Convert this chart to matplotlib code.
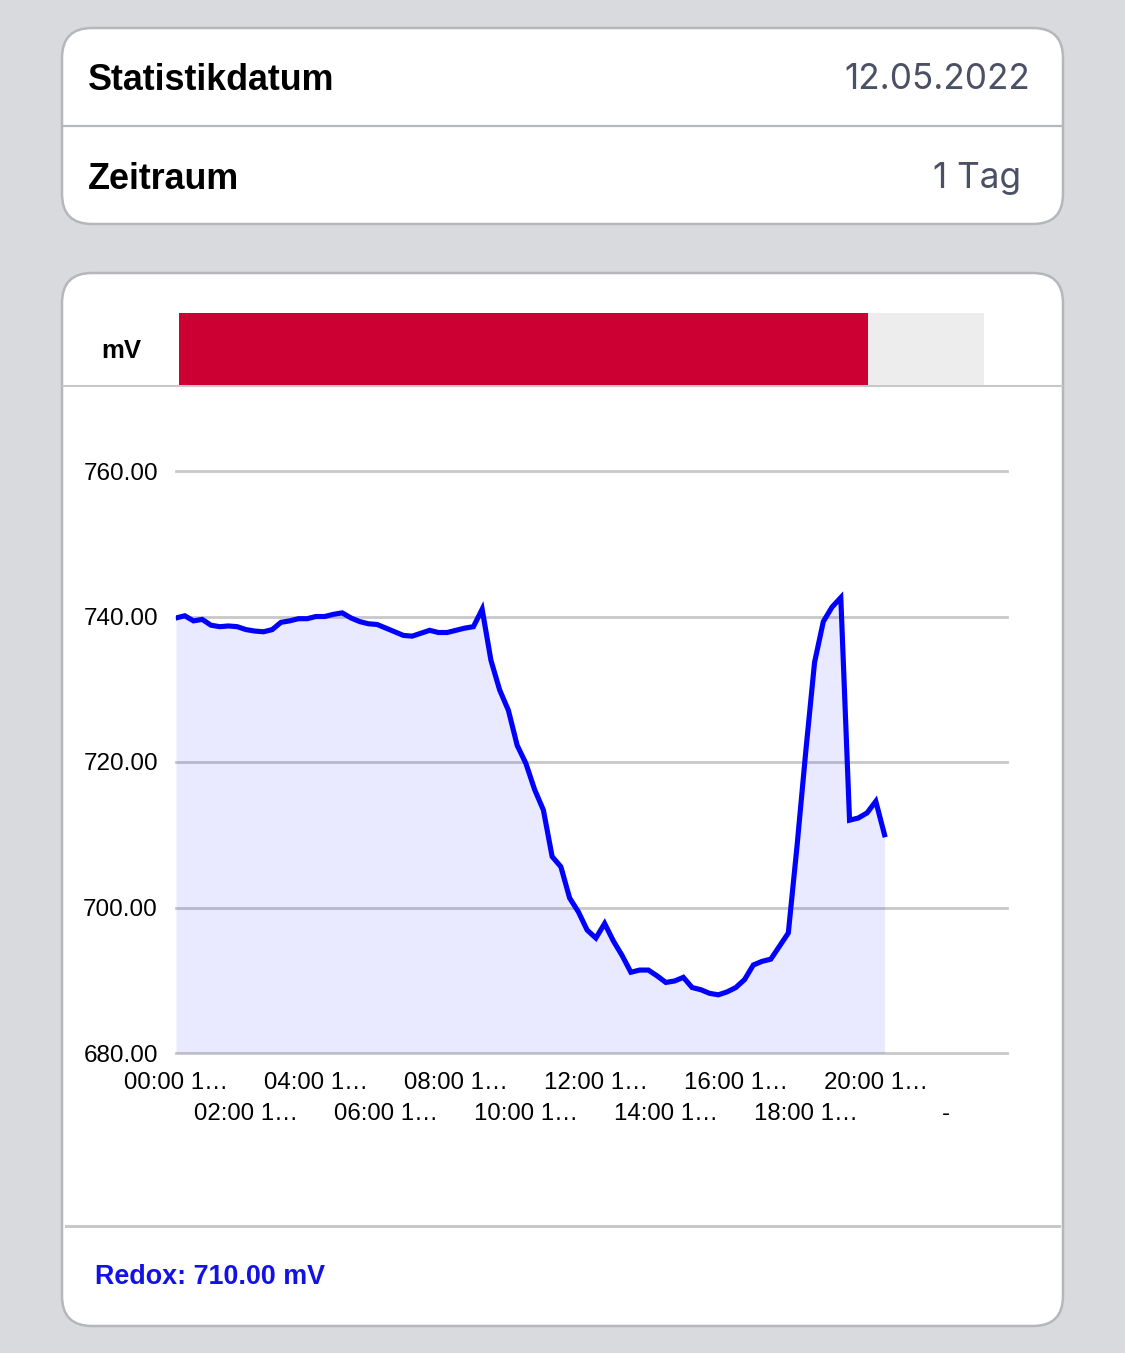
import matplotlib
matplotlib.use("Agg")
import matplotlib.pyplot as plt
from matplotlib.patches import FancyBboxPatch

# ---------------- data ----------------
stat_label = "Statistikdatum"
stat_value = "12.05.2022"
period_label = "Zeitraum"
period_value = "1 Tag"
unit_label = "mV"
series_name = "Redox"
gauge_value = 710.0
gauge_max = 830.0

slot_count = 96  # 15-minute slots over one day
tick_slots = list(range(0, 96, 8))
tick_labels = ["00:00 1…", "02:00 1…", "04:00 1…", "06:00 1…", "08:00 1…",
               "10:00 1…", "12:00 1…", "14:00 1…", "16:00 1…", "18:00 1…",
               "20:00 1…", "-"]
y_ticks = [680, 700, 720, 740, 760]
y_tick_labels = ["680.00", "700.00", "720.00", "740.00", "760.00"]

redox = [739.8, 740.1, 739.4, 739.6, 738.8, 738.6, 738.7, 738.6, 738.2, 738.0,
         737.9, 738.2, 739.2, 739.4, 739.7, 739.7, 740.0, 740.0, 740.3, 740.5,
         739.8, 739.3, 739.0, 738.9, 738.4, 737.9, 737.4, 737.3, 737.7, 738.1,
         737.8, 737.8, 738.1, 738.4, 738.6, 741.0, 734.0, 729.9, 727.1, 722.3,
         719.8, 716.2, 713.4, 707.0, 705.6, 701.3, 699.4, 696.9, 695.8, 697.8,
         695.4, 693.4, 691.1, 691.4, 691.4, 690.6, 689.7, 689.9, 690.4, 689.0,
         688.7, 688.2, 688.0, 688.4, 689.0, 690.1, 692.1, 692.6, 692.9, 694.7,
         696.5, 708.5, 721.5, 733.7, 739.3, 741.3, 742.6, 712.0, 712.3, 713.0,
         714.6, 710.0]

# ---------------- layout ----------------
W, H, DPI = 1125, 1353, 100
BG = "#d9dade"
BORDER = "#b6b7bb"
SANS = ["Liberation Sans", "DejaVu Sans"]
UI = ["Inter", "DejaVu Sans"]

fig = plt.figure(figsize=(W / DPI, H / DPI), dpi=DPI, facecolor=BG)

def fx(px):
    return px / W

def fy(py):
    return 1 - py / H

bg = fig.add_axes([0, 0, 1, 1])
bg.set_xlim(0, W)
bg.set_ylim(H, 0)
bg.axis("off")
bg.set_facecolor(BG)

def card(x0, y0, x1, y1):
    p = FancyBboxPatch((x0, y0), x1 - x0, y1 - y0,
                       boxstyle="round,pad=0,rounding_size=30",
                       facecolor="white", edgecolor=BORDER, linewidth=1.8)
    bg.add_patch(p)

# top card
card(62, 28, 1063, 224)
bg.plot([63, 1062], [126, 126], color=BORDER, lw=1.6)
bg.text(88, 90, stat_label, fontsize=25.8, fontweight="bold", family=SANS,
        ha="left", va="baseline", color="black")
bg.text(88, 189, period_label, fontsize=25.8, fontweight="bold", family=SANS,
        ha="left", va="baseline", color="black")
bg.text(1030, 89, stat_value, fontsize=25.3, family=UI,
        ha="right", va="baseline", color="#4b5064")
bg.text(1021, 188, period_value, fontsize=25.3, family=UI,
        ha="right", va="baseline", color="#4b5064")

# chart card
card(62, 273, 1063, 1326)
bg.plot([63, 1062], [385.5, 385.5], color="#c8c8c8", lw=1.5)
bg.plot([66, 1059], [1225.5, 1225.5], color="#c8c8c8", lw=2.2)
bg.text(121, 358, unit_label, fontsize=18.5, fontweight="bold", family=SANS,
        ha="center", va="baseline", color="black")
bg.text(95, 1284, f"{series_name}: {redox[-1]:.2f} {unit_label}", fontsize=19.4,
        fontweight="bold", family=SANS, ha="left", va="baseline", color="#1212e6")

# gauge bar
gax = fig.add_axes([fx(179), fy(385), (984 - 179) / W, (385 - 313) / H])
gax.set_facecolor("#ededed")
gax.barh([0], [gauge_value], height=1.0, color="#cc0033", left=0)
gax.set_xlim(0, gauge_max)
gax.set_ylim(-0.5, 0.5)
gax.set_xticks([])
gax.set_yticks([])
for s in gax.spines.values():
    s.set_visible(False)

# line chart
ax = fig.add_axes([fx(176), fy(1053), (1007 - 176) / W, (1053 - 471) / H])
ax.set_facecolor("none")
x = list(range(len(redox)))
ax.fill_between(x, redox, y_ticks[0], color=(0, 0, 1, 0.085), lw=0, zorder=2)
ax.plot(x, redox, color="#0000ff", lw=3.7, zorder=3, solid_joinstyle="miter")
ax.set_xlim(0, slot_count - 1)
ax.set_ylim(y_ticks[0], y_ticks[-1])
ax.set_yticks(y_ticks)
ax.set_yticklabels(y_tick_labels, family=SANS, fontsize=17.5)
for yv in y_ticks:
    ax.axhline(yv, color="#c8c8c8", lw=2.0, zorder=1, clip_on=False)
ax.grid(False)

major = tick_slots[0::2]
minor = tick_slots[1::2]
ax.set_xticks(major)
ax.set_xticklabels(tick_labels[0::2], family=SANS, fontsize=17.3)
ax.set_xticks(minor, minor=True)
ax.set_xticklabels(tick_labels[1::2], minor=True, family=SANS, fontsize=17.3)
ax.tick_params(axis="x", which="major", length=0, pad=14)
ax.tick_params(axis="x", which="minor", length=0, pad=36)
ax.tick_params(axis="y", length=0, pad=13)
for s in ax.spines.values():
    s.set_visible(False)

fig.savefig("out.png", dpi=DPI, facecolor=BG)
